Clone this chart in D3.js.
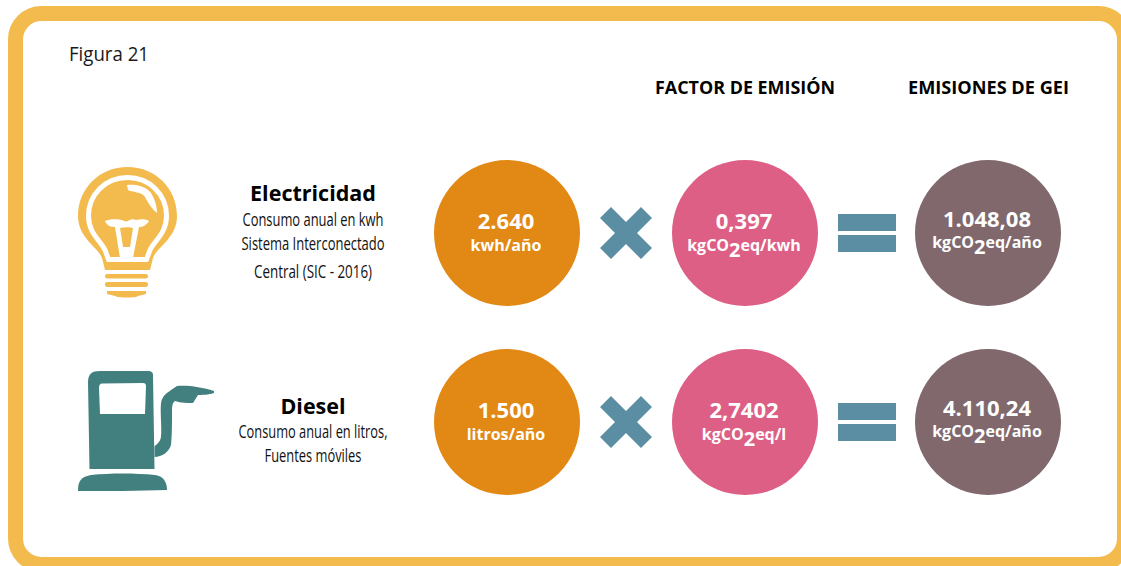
<!DOCTYPE html>
<html>
<head>
<meta charset="utf-8">
<script src="https://cdnjs.cloudflare.com/ajax/libs/d3/7.8.5/d3.min.js"></script>
<style>
  html, body { margin: 0; padding: 0; background: #fff; overflow: hidden; }
  svg { display: block; }
  text { font-family: "Open Sans", sans-serif; }
</style>
</head>
<body>
<script>
// values
var figureTitle = "Figura 21";
var headers = ["FACTOR DE EMISIÓN", "EMISIONES DE GEI"];
var sources = ["Electricidad", "Diesel"];
var sourceNotes = [
    ["Consumo anual en kwh", "Sistema Interconectado", "Central (SIC - 2016)"],
    ["Consumo anual en litros,", "Fuentes móviles"]
];
var columns = ["amount", "factor", "result"];
var amounts = ["2.640", "1.500"];
var amountUnits = ["kwh/año", "litros/año"];
var factors = ["0,397", "2,7402"];
var factorUnits = [["kgCO", "2", "eq/kwh"], ["kgCO", "2", "eq/l"]];
var results = ["1.048,08", "4.110,24"];
var resultUnits = [["kgCO", "2", "eq/año"], ["kgCO", "2", "eq/año"]];

var width = 1121, height = 566;
var svg = d3.select("body").append("svg").attr("width", width).attr("height", height);

var x = d3.scaleOrdinal().domain(columns).range([507, 745, 988]);
var y = d3.scaleOrdinal().domain(sources).range([233, 422]);
var color = d3.scaleOrdinal().domain(columns).range(["#e28815", "#de5f85", "#80686d"]);

// frame
svg.append("rect")
    .attr("x", 15.5).attr("y", 13.5)
    .attr("width", 1109).attr("height", 551)
    .attr("rx", 26)
    .style("fill", "#fff")
    .style("stroke", "#f3bb4e")
    .style("stroke-width", 15);

svg.append("text").attr("x", 69).attr("y", 61)
    .attr("textLength", 80).attr("lengthAdjust", "spacingAndGlyphs")
    .style("font-size", "20px").style("fill", "#1a1a1a")
    .text(figureTitle);

var headerX = [745, 988.5];
var headerLen = [180, 161];
headers.forEach(function (h, i) {
    svg.append("text")
        .attr("x", headerX[i]).attr("y", 94)
        .attr("text-anchor", "middle")
        .attr("textLength", headerLen[i])
        .attr("lengthAdjust", "spacingAndGlyphs")
        .style("font-size", "18px").style("font-weight", 700).style("fill", "#000")
        .text(h);
});

// left labels, the notes are set condensed in the original
var labelX = 313;
var noteBaselines = [[226, 250, 278], [438, 462]];
var noteLen = [[141, 143, 118], [149, 97]];
var titleBaselines = [201, 414];
sources.forEach(function (s, i) {
    svg.append("text").attr("x", labelX).attr("y", titleBaselines[i])
        .attr("text-anchor", "middle")
        .style("font-size", "21.5px").style("font-weight", 700).style("fill", "#000")
        .text(s);
    sourceNotes[i].forEach(function (line, j) {
        svg.append("text").attr("x", labelX).attr("y", noteBaselines[i][j])
            .attr("text-anchor", "middle")
            .attr("textLength", noteLen[i][j])
            .attr("lengthAdjust", "spacingAndGlyphs")
            .style("font-size", "18px").style("fill", "#111")
            .text(line);
    });
});

// circles
function addBubble(col, row, value, unit, valueDy, unitDy) {
    var cx = x(col), cy = y(row);
    svg.append("circle").attr("cx", cx).attr("cy", cy).attr("r", 73).style("fill", color(col));
    svg.append("text").attr("x", cx - 1).attr("y", cy + valueDy)
        .attr("text-anchor", "middle")
        .style("font-size", "22px").style("font-weight", 700).style("fill", "#fff")
        .text(value);
    var t = svg.append("text").attr("x", cx - 1).attr("y", cy + unitDy)
        .attr("text-anchor", "middle")
        .style("font-size", "16px").style("font-weight", 700).style("fill", "#fff");
    if (typeof unit === "string") {
        t.text(unit);
    } else {
        t.append("tspan").text(unit[0]);
        t.append("tspan").attr("dy", 6).style("font-size", "20px").text(unit[1]);
        t.append("tspan").attr("dy", -6).text(unit[2]);
    }
}

sources.forEach(function (s, i) {
    addBubble("amount", s, amounts[i], amountUnits[i], -4, 18);
    addBubble("factor", s, factors[i], factorUnits[i], -4, 18);
    addBubble("result", s, results[i], resultUnits[i], -6, 15);
});

// operators
var opColor = "#5b8ea3";
sources.forEach(function (s) {
    var cy = y(s);
    svg.append("path")
        .attr("transform", "translate(626," + cy + ")")
        .attr("d", "M-26,-15 L-15,-26 L0,-11 L15,-26 L26,-15 L11,0 L26,15 L15,26 L0,11 L-15,26 L-26,15 L-11,0 Z")
        .style("fill", opColor);
    [-19, 2].forEach(function (dy) {
        svg.append("rect").attr("x", 838).attr("y", cy + dy)
            .attr("width", 58).attr("height", 17)
            .style("fill", opColor);
    });
});

// light bulb icon
var bulb = svg.append("g");
bulb.append("path").style("fill", "#f3bb4e")
    .attr("d", "M105,270 L102,258 C98,247 78,238 78,216 C78,188 100,167 127.5,167 C155,167 177,188 177,216 C177,238 157,247 153,258 L150,270 Z");
bulb.append("path").style("fill", "none").style("stroke", "#fff").style("stroke-width", 5)
    .attr("d", "M108.5,259.5 L105,250 C100,240 88.5,233 88.5,216 C88.5,194 106,177.5 127.5,177.5 C149,177.5 166.5,194 166.5,216 C166.5,233 155,240 150,250 L146.5,259.5 Z");
bulb.append("path").style("fill", "#fff")
    .attr("d", "M127,185 C135,184 146,186 151,193 C155,199 157,207 157,213 C152,209 148,203 145,197 C142,192 132,192 128,190 Z");
// filament
bulb.append("path").style("fill", "#fff").attr("fill-rule", "evenodd")
    .attr("d", "M105,221 C109,219 118,219 122,220 C124,221 126,222 128,221 C131,219 133,219 136,220 C141,219 146,219 149,221 C146,226 142,227 139,227 L133,258 L120,258 L115,227 C111,227 107,226 105,221 Z M120,228 L123,247 L130,247 L133,228 C130,227 124,227 120,228 Z");
[[105, 274, 43, 4.5], [105, 282, 43, 5]].forEach(function (b) {
    bulb.append("rect").attr("x", b[0]).attr("y", b[1]).attr("width", b[2]).attr("height", b[3])
        .attr("rx", 2.2).style("fill", "#f3bb4e");
});
bulb.append("path").style("fill", "#f3bb4e")
    .attr("d", "M107,291 L146,291 L146,294 L138,296 C136,298 118,298 115,296 L107,294 Z");

// diesel pump icon
var pump = svg.append("g").style("fill", "#41807f");
pump.append("path").attr("fill-rule", "evenodd")
    .attr("d", "M88,382 C88,374 92,371 100,371 L148,371 C151,371 153,372 153,375 L154.5,469 L89.5,469 Z M102,383.5 C100,383.5 99,385 99,388 L100,414 L145,414 L146,386 C146,384 145,383 143,383 Z");
pump.append("path")
    .attr("d", "M154.5,446 C158,444 161,440 161,436 C162,428 160,412 161,403 C162,396 167,393 171,390 L177,386 C187,385 202,387 214,391 L214,393 C212,394 205,395 198,395 L193,403 C187,403 181,403 175,401 C172,403 172,408 172,412 C172,425 172,435 171,445 C169,452 162,457 154.5,457 Z");
pump.append("path")
    .attr("d", "M78,491 C78,482 80,477 91,475 C110,473 135,473 155,475 C164,476 167,483 167,490 C140,491 105,491 78,491 Z");
</script>
</body>
</html>
